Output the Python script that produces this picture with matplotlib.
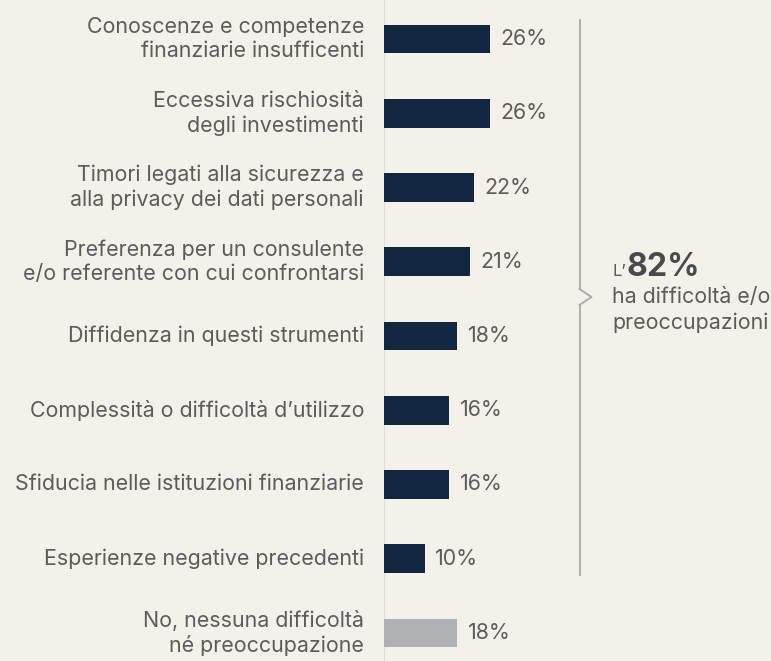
import matplotlib
matplotlib.use("Agg")
import matplotlib.pyplot as plt
from matplotlib.lines import Line2D

categories = [
    "Conoscenze e competenze\nfinanziarie insufficenti",
    "Eccessiva rischiosità\ndegli investimenti",
    "Timori legati alla sicurezza e\nalla privacy dei dati personali",
    "Preferenza per un consulente\ne/o referente con cui confrontarsi",
    "Diffidenza in questi strumenti",
    "Complessità o difficoltà d\u2019utilizzo",
    "Sfiducia nelle istituzioni finanziarie",
    "Esperienze negative precedenti",
    "No, nessuna difficoltà\nné preoccupazione",
]
values = [26, 26, 22, 21, 18, 16, 16, 10, 18]
total_share = 82

BG = "#f4f1ea"
NAVY = "#13263f"
GREY_BAR = "#b0b1b4"
TEXT = "#5c5c5c"
FONT = ["Inter", "DejaVu Sans"]
FS = 15.4

W, H = 771, 661
fig = plt.figure(figsize=(W / 100, H / 100), dpi=100, facecolor=BG)

# axes starts at the vertical baseline of the bars
ax = fig.add_axes([384 / W, 0, 1 - 384 / W, 1])
ax.set_facecolor(BG)
px_per_unit = 106 / 26
ax.set_xlim(0, (W - 384) / px_per_unit)
step = 74.25
ax.set_ylim(8 + 28 / step, -39 / step)

colors = [NAVY] * (len(values) - 1) + [GREY_BAR]
ypos = list(range(len(values)))
ax.barh(ypos, values, height=0.39, color=colors, zorder=2)

for y, v, lab in zip(ypos, values, categories):
    ax.text(v + 2.6, y, f"{v}%", va="center", ha="left",
            fontsize=FS, color=TEXT, family=FONT)
    ax.text(-20 / px_per_unit, y, lab, va="center", ha="right",
            fontsize=FS, color=TEXT, family=FONT, linespacing=1.28,
            multialignment="right", clip_on=False)

for s in ax.spines.values():
    s.set_visible(False)
ax.set_xticks([])
ax.set_yticks([])
ax.axvline(0, color="#d9d8d4", lw=1.2, zorder=1)

# bracket grouping all the difficulty items
def fx(x):
    return x / W

def fy(y):
    return 1 - y / H

bx, top, bottom, mid = 579.5, 20, 575, 297
fig.add_artist(Line2D([fx(bx), fx(bx)], [fy(top), fy(mid - 8)],
                      color="#a9a9a9", lw=1.3))
fig.add_artist(Line2D([fx(bx), fx(bx + 12), fx(bx)],
                      [fy(mid - 8), fy(mid), fy(mid + 8)],
                      color="#a9a9a9", lw=1.3))
fig.add_artist(Line2D([fx(bx), fx(bx)], [fy(mid + 8), fy(bottom)],
                      color="#a9a9a9", lw=1.3))

fig.text(fx(613), fy(276), "L\u2019", fontsize=12, color=TEXT, family=FONT,
         ha="left", va="baseline")
fig.text(fx(627), fy(276), f"{total_share}%", fontsize=23, color="#4a4a4a",
         family=FONT, weight="bold", ha="left", va="baseline")
fig.text(fx(612), fy(303), "ha difficoltà e/o", fontsize=FS, color=TEXT,
         family=FONT, ha="left", va="baseline")
fig.text(fx(612), fy(329), "preoccupazioni", fontsize=FS, color=TEXT,
         family=FONT, ha="left", va="baseline")

fig.savefig("out.png", dpi=100, facecolor=BG)
